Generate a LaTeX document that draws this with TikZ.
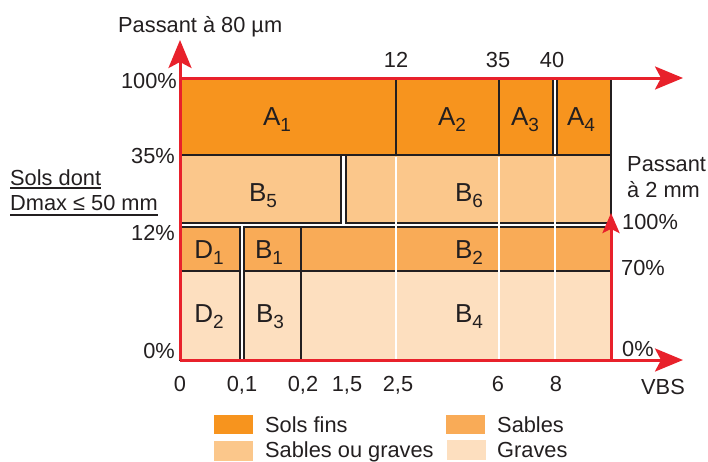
\documentclass[tikz,border=0pt]{standalone}
\usepackage{fontspec}
\setmainfont{Liberation Sans}
\usetikzlibrary{arrows.meta}
\definecolor{fins}{HTML}{F7941E}
\definecolor{sab}{HTML}{F9AB57}
\definecolor{sog}{HTML}{FBC78B}
\definecolor{grav}{HTML}{FDDFBF}
\definecolor{axred}{HTML}{E8212B}
\definecolor{ink}{HTML}{231F20}
\newcommand\sublbl[2]{#1\raisebox{-6pt}{\fontsize{19}{19}\selectfont #2}}
\begin{document}
\begin{tikzpicture}[x=1pt,y=-1pt,
  blk/.style={draw=ink,line width=1.5pt},
  wl/.style={draw=white,line width=1.8pt},
  ax/.style={draw=axred,line width=3pt,-{Stealth[length=28pt,width=23pt,inset=6pt]}},
  axs/.style={draw=axred,line width=3pt,-{Stealth[length=20pt,width=17pt,inset=4pt]}},
  txt/.style={text=ink,font=\fontsize{21.8}{25}\selectfont,inner sep=0pt},
  big/.style={text=ink,font=\fontsize{26}{28}\selectfont,inner sep=0pt,anchor=base},
]
\useasboundingbox (0,0) rectangle (708,461);

% blocks
\path[blk,fill=fins] (180,78) rectangle (396,155);
\path[blk,fill=fins] (396,78) rectangle (499,155);
\path[blk,fill=fins] (499,78) rectangle (553,155);
\path[blk,fill=fins] (557,78) rectangle (611,155);
\path[blk,fill=sog] (180,155) rectangle (341,223);
\path[blk,fill=sog] (346,155) rectangle (611,223);
\path[blk,fill=sab] (180,227) rectangle (240,271);
\path[blk,fill=sab] (244,227) rectangle (301,271);
\path[blk,fill=sab] (301,227) rectangle (611,271);
\path[blk,fill=grav] (180,271) rectangle (240,360);
\path[blk,fill=grav] (244,271) rectangle (301,360);
\path[blk,fill=grav] (301,271) rectangle (611,360);

% white guide lines
\draw[wl] (396,156.5) -- (396,359);
\draw[wl] (499,156.5) -- (499,359);
\draw[wl] (555,156.5) -- (555,359);

% block labels
\node[big] (a1) at (277,125) {\sublbl{A}{1}};
\node[big] (a2) at (452,125) {\sublbl{A}{2}};
\node[big] (a3) at (525,125) {\sublbl{A}{3}};
\node[big] (a4) at (581,125) {\sublbl{A}{4}};
\node[big] (b5) at (263,201) {\sublbl{B}{5}};
\node[big] (b6) at (469,201) {\sublbl{B}{6}};
\node[big] (d1) at (209,258) {\sublbl{D}{1}};
\node[big] (b1) at (269,258) {\sublbl{B}{1}};
\node[big] (b2) at (469,258) {\sublbl{B}{2}};
\node[big] (d2) at (209,322) {\sublbl{D}{2}};
\node[big] (b3) at (270,322) {\sublbl{B}{3}};
\node[big] (b4) at (469,322) {\sublbl{B}{4}};

% axes
\coordinate (O) at (180,360);
\coordinate (Ytip) at (180,40);
\coordinate (TL) at (180,78);
\coordinate (Ttip) at (683,78);
\coordinate (Btip) at (683,360);
\coordinate (R0) at (611,360);
\coordinate (Rtip) at (611,213);
\draw[ax] (O) -- (Ytip);
\draw[ax] (TL) -- (Ttip);
\draw[ax] (O) -- (Btip);
\draw[axs] (R0) -- (Rtip);

% axis texts
\node[txt,anchor=base west] (ttl) at (118,32) {Passant à 80 µm};
\node[txt,anchor=base east] (l100) at (177,88) {100\%};
\node[txt,anchor=base east] (l35) at (175,163) {35\%};
\node[txt,anchor=base east] (l12) at (175,240) {12\%};
\node[txt,anchor=base east] (l0) at (175,358) {0\%};
\node[txt,anchor=base] (t12) at (396,67) {12};
\node[txt,anchor=base] (t35) at (498,67) {35};
\node[txt,anchor=base] (t40) at (552,67) {40};
\node[txt,anchor=base] (x0) at (180,391) {0};
\node[txt,anchor=base] (x01) at (242,391) {0,1};
\node[txt,anchor=base] (x02) at (303,391) {0,2};
\node[txt,anchor=base] (x15) at (347,391) {1,5};
\node[txt,anchor=base] (x25) at (398,391) {2,5};
\node[txt,anchor=base] (x6) at (498,391) {6};
\node[txt,anchor=base] (x8) at (556,391) {8};
\node[txt,anchor=base] (vbs) at (663,394) {VBS};
\node[txt,anchor=base west] (pr1) at (627,171) {Passant};
\node[txt,anchor=base west] (pr2) at (627,197) {à 2 mm};
\node[txt,anchor=base west] (r100) at (622,229) {100\%};
\node[txt,anchor=base west] (r70) at (621,275) {70\%};
\node[txt,anchor=base west] (r0) at (622,356) {0\%};

\node[txt,anchor=base west] (sols) at (10,185) {Sols dont};
\node[txt,anchor=base west] (dmax) at (10,210) {Dmax ≤ 50 mm};
\draw[ink,line width=1.3pt] ([yshift=-3pt]sols.base west) -- ([yshift=-3pt]sols.base east);
\draw[ink,line width=1.3pt] ([yshift=-5pt]dmax.base west) -- ([yshift=-5pt]dmax.base east);

% legend
\fill[fins] (214,415) rectangle (253,434);
\fill[sog] (214,441) rectangle (253,461);
\fill[sab] (446,415) rectangle (485,434);
\fill[grav] (447,440) rectangle (486,460);
\node[txt,anchor=base west] (lg1) at (265,432) {Sols fins};
\node[txt,anchor=base west] (lg2) at (265,457) {Sables ou graves};
\node[txt,anchor=base west] (lg3) at (497,432) {Sables};
\node[txt,anchor=base west] (lg4) at (497,457) {Graves};
\end{tikzpicture}
\end{document}
